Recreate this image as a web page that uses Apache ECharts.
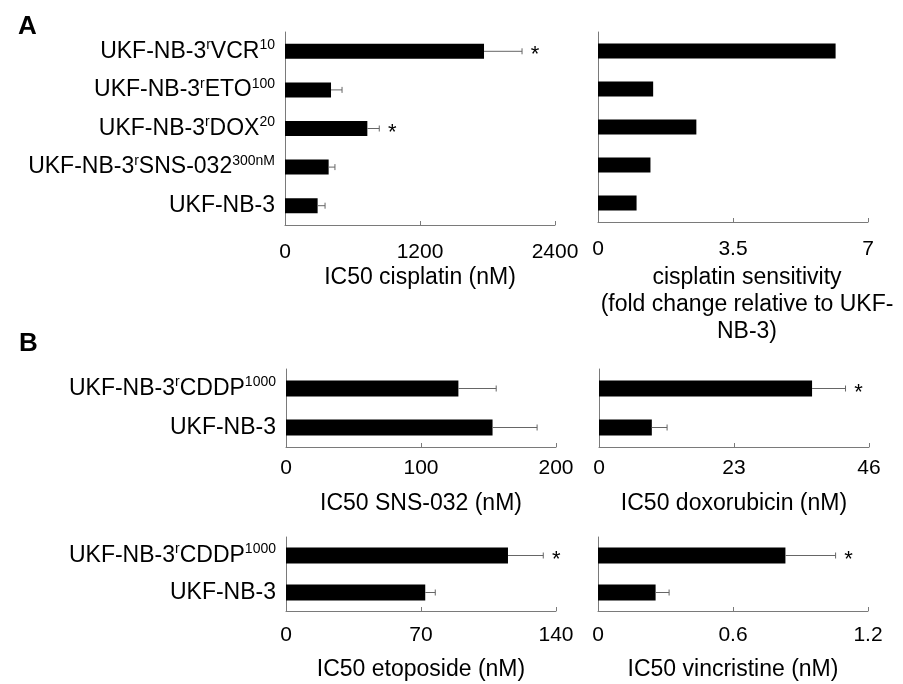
<!DOCTYPE html>
<html>
<head>
<meta charset="utf-8">
<script src="https://cdn.jsdelivr.net/npm/echarts@6/dist/echarts.min.js"></script>
<style>
  html, body { margin: 0; background: #fff; }
  #main { width: 903px; height: 684px; }
</style>
</head>
<body>
<div id="main"></div>
<script>
// A: cell lines, bottom to top (category axis starts at the bottom)
let linesA = ['UKF-NB-3', 'UKF-NB-3rSNS-032', 'UKF-NB-3rDOX', 'UKF-NB-3rETO', 'UKF-NB-3rVCR']
let dosesA = ['', '300nM', '20', '100', '10']
let cisIC50 = [290, 388, 732, 409, 1769]
let cisErr = [66, 56, 106, 98, 338]
let cisSig = [0, 0, 1, 0, 1]
let foldChange = [1.0, 1.36, 2.55, 1.43, 6.16]

// B: parental vs cisplatin resistant
let linesB = ['UKF-NB-3', 'UKF-NB-3rCDDP']
let dosesB = ['', '1000']
let snsIC50 = [153, 127.7]
let snsErr = [33, 28]
let snsSig = [0, 0]
let doxIC50 = [9.0, 36.3]
let doxErr = [2.6, 5.7]
let doxSig = [0, 1]
let etoIC50 = [72.2, 115.1]
let etoErr = [5.2, 18.3]
let etoSig = [0, 1]
let vcrIC50 = [0.256, 0.833]
let vcrErr = [0.06, 0.223]
let vcrSig = [0, 1]

const FONT = '"Liberation Sans", Arial, sans-serif'
const AXIS = '#7a7a7a'

function cellLabel(name, dose) {
  if (name === 'UKF-NB-3') return '{a|UKF-NB-3}'
  return '{a|UKF-NB-3}{s|r}{a|' + name.slice(9) + '}{s|' + dose + '}'
}

function errorBar(params, api) {
  let v = api.value(0), y = api.value(1), e = api.value(2), sig = api.value(3)
  let p0 = api.coord([v, y])
  let p1 = api.coord([v + e, y])
  let kids = [
    { type: 'line', shape: { x1: p0[0], y1: p0[1], x2: p1[0], y2: p1[1] }, style: { stroke: '#666', lineWidth: 1 } },
    { type: 'line', shape: { x1: p1[0], y1: p1[1] - 3, x2: p1[0], y2: p1[1] + 3 }, style: { stroke: '#666', lineWidth: 1 } }
  ]
  if (sig) {
    kids.push({
      type: 'text',
      style: { text: '*', x: p1[0] + 13, y: p1[1] + 4, fontSize: 22, fontFamily: FONT, fill: '#000', align: 'center', verticalAlign: 'middle' }
    })
  }
  return { type: 'group', children: kids }
}

function errData(vals, errs, sigs) {
  return vals.map(function (v, i) { return [v, i, errs[i], sigs[i]] })
}

function xAxis(idx, max, interval, name, gap, margin, namePad) {
  return {
    type: 'value', gridIndex: idx, min: 0, max: max, interval: interval,
    name: name, nameLocation: 'middle', nameGap: gap,
    nameTextStyle: { fontSize: 23, fontFamily: FONT, color: '#000', lineHeight: 27, padding: namePad || 0 },
    axisLine: { show: true, lineStyle: { color: AXIS, width: 1 } },
    axisTick: { show: true, inside: true, length: 4, lineStyle: { color: AXIS } },
    splitLine: { show: false },
    axisLabel: {
      fontSize: 21, fontFamily: FONT, color: '#000', margin: margin, showMinLabel: true, showMaxLabel: true,
      formatter: function (v) { return String(v) }
    }
  }
}

function yAxis(idx, cats, doses, showLabel) {
  return {
    type: 'category', gridIndex: idx, data: cats,
    axisLine: { show: true, lineStyle: { color: AXIS, width: 1 } },
    axisTick: { show: false },
    axisLabel: {
      show: showLabel, margin: 10,
      formatter: function (value, i) { return cellLabel(value, doses[i]) },
      rich: {
        a: { fontSize: 23, fontFamily: FONT, color: '#000', lineHeight: 26 },
        s: { fontSize: 14, fontFamily: FONT, color: '#000', lineHeight: 14, verticalAlign: 'top' }
      }
    }
  }
}

function bars(idx, vals, w) {
  return { type: 'bar', xAxisIndex: idx, yAxisIndex: idx, data: vals, barWidth: w, itemStyle: { color: '#000' }, silent: true }
}

function errs(idx, vals, e, s) {
  return { type: 'custom', xAxisIndex: idx, yAxisIndex: idx, data: errData(vals, e, s), renderItem: errorBar, silent: true, z: 3 }
}

let mychart = echarts.init(document.getElementById('main'))
let option = {
  animation: false,
  backgroundColor: '#fff',
  title: [
    { text: 'A', left: 13, top: 9, textStyle: { fontSize: 26, fontWeight: 'bold', fontFamily: FONT, color: '#000' } },
    { text: 'B', left: 14, top: 326, textStyle: { fontSize: 26, fontWeight: 'bold', fontFamily: FONT, color: '#000' } }
  ],
  grid: [
    { left: 285, top: 32, width: 270, height: 193 },
    { left: 598, top: 32, width: 270, height: 190 },
    { left: 286, top: 369, width: 270, height: 78 },
    { left: 599, top: 369, width: 270, height: 78 },
    { left: 286, top: 537, width: 270, height: 78 },
    { left: 598, top: 537, width: 270, height: 78 }
  ],
  xAxis: [
    xAxis(0, 2400, 1200, 'IC50 cisplatin (nM)', 36, 17),
    xAxis(1, 7, 3.5, 'cisplatin sensitivity\n(fold change relative to UKF-\nNB-3)', 42, 17, [0, 0, 0, 28]),
    xAxis(2, 200, 100, 'IC50 SNS-032 (nM)', 43, 11),
    xAxis(3, 46, 23, 'IC50 doxorubicin (nM)', 43, 11),
    xAxis(4, 140, 70, 'IC50 etoposide (nM)', 45, 14),
    xAxis(5, 1.2, 0.6, 'IC50 vincristine (nM)', 45, 14)
  ],
  yAxis: [
    yAxis(0, linesA, dosesA, true),
    yAxis(1, linesA, dosesA, false),
    yAxis(2, linesB, dosesB, true),
    yAxis(3, linesB, dosesB, false),
    yAxis(4, linesB, dosesB, true),
    yAxis(5, linesB, dosesB, false)
  ],
  series: [
    bars(0, cisIC50, 15), errs(0, cisIC50, cisErr, cisSig),
    bars(1, foldChange, 15),
    bars(2, snsIC50, 16), errs(2, snsIC50, snsErr, snsSig),
    bars(3, doxIC50, 16), errs(3, doxIC50, doxErr, doxSig),
    bars(4, etoIC50, 16), errs(4, etoIC50, etoErr, etoSig),
    bars(5, vcrIC50, 16), errs(5, vcrIC50, vcrErr, vcrSig)
  ]
}
mychart.setOption(option)
window.addEventListener('resize', function () {
  mychart.resize()
})
</script>
</body>
</html>
